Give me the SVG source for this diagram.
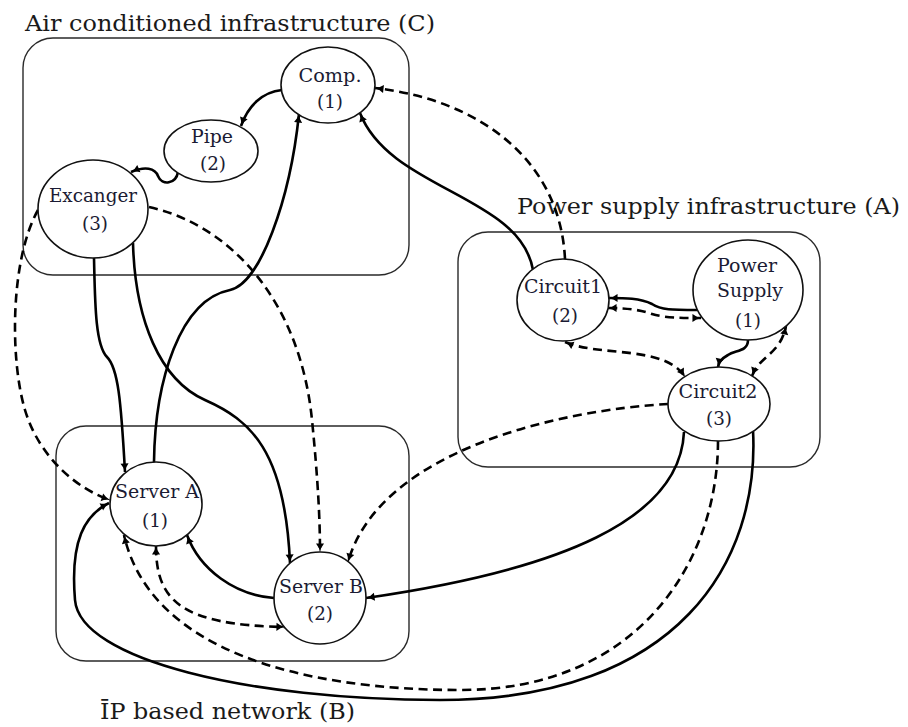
<svg xmlns="http://www.w3.org/2000/svg" width="908" height="727" viewBox="0 0 908 727">
<style>
.box{fill:none;stroke:#2a2a2a;stroke-width:1.4}
.node ellipse{fill:#fff;stroke:#111;stroke-width:1.6}
.nt{font-family:"DejaVu Serif",serif;font-size:18.5px;fill:#1b1b33;text-anchor:middle}
.gl{font-family:"DejaVu Serif",serif;font-size:22px;fill:#1a1a1a}
.c{fill:none;stroke:#000;stroke-width:2.6}
.d{stroke-dasharray:9 5.5}
.a{marker-end:url(#ah)}
.b{marker-start:url(#ah);marker-end:url(#ah)}
</style>
<defs>
<marker id="ah" viewBox="0 0 10 10" refX="9.5" refY="5" markerWidth="11" markerHeight="9" markerUnits="userSpaceOnUse" orient="auto-start-reverse">
<path d="M0,0.5 Q4,4 10,5 Q4,6 0,9.5 Z" fill="#000"/>
</marker>
</defs>
<rect width="908" height="727" fill="#fff"/>
<g id="groups">
<rect class="box" x="23" y="38" width="386" height="237" rx="30"/>
<rect class="box" x="458" y="232" width="362" height="235" rx="30"/>
<rect class="box" x="56" y="426" width="353" height="235" rx="30"/>
<text class="gl" x="25" y="31" textLength="410" lengthAdjust="spacingAndGlyphs">Air conditioned infrastructure (C)</text>
<text class="gl" x="517" y="214" textLength="383" lengthAdjust="spacingAndGlyphs">Power supply infrastructure (A)</text>
<text class="gl" x="100" y="719" textLength="255" lengthAdjust="spacingAndGlyphs">ĪP based network (B)</text>
</g>
<g id="connectors">
<path class="c a" d="M282,90 C262,92 248,106 241,126"/>
<path class="c a" d="M178,172 C176,184 162,186 158,176 C155,168 145,166 131,172"/>
<path class="c a" d="M533,270 C520,195 390,190 360,113"/>
<path class="c d a" d="M565,259 C560,160 480,100 375,88"/>
<path class="c a" d="M697,310 C672,310 661,310 652,304 C640,298 625,298 609,298"/>
<path class="c d b" d="M608,308 C628,308 640,310 652,314 C665,318 682,318 701,318"/>
<path class="c d b" d="M565,342 C600,357 665,345 685,377"/>
<path class="c a" d="M748,340 C748,352 735,350 728,355 C721,359 719,362 718,367"/>
<path class="c d b" d="M752,376 C760,355 780,355 786,326"/>
<path class="c d a" d="M668,404 C560,410 380,450 348,562"/>
<path class="c a" d="M684,432 C680,520 560,570 366,598"/>
<path class="c d a" d="M718,441 C718,560 640,690 460,690 C300,690 150,650 124,535"/>
<path class="c a" d="M753,430 C760,560 680,700 440,700 C250,700 80,660 75,600 C70,540 85,515 109,503"/>
<path class="c a" d="M274,598 C235,595 200,570 187,535"/>
<path class="c d b" d="M156,546 C156,600 180,625 285,627"/>
<path class="c a" d="M94,258 C95,300 95,345 107,357 C118,368 121,400 125,472"/>
<path class="c a" d="M133,243 C135,320 160,380 205,400 C250,420 285,450 290,563"/>
<path class="c a" d="M154,462 C155,380 180,300 230,290 C260,284 290,200 299,114"/>
<path class="c d a" d="M38,210 C10,260 10,360 25,410 C40,460 80,490 110,500"/>
<path class="c d a" d="M149,207 C230,225 300,300 312,420 C318,480 320,520 320,552"/>
</g>
<g id="comp" class="node"><ellipse cx="328" cy="85" rx="47" ry="38"/><text class="nt" x="330" y="82" textLength="63" lengthAdjust="spacingAndGlyphs">Comp.</text><text class="nt" x="330" y="108" textLength="26" lengthAdjust="spacingAndGlyphs">(1)</text></g>
<g id="pipe" class="node"><ellipse cx="211" cy="151" rx="47" ry="31"/><text class="nt" x="212" y="143" textLength="42" lengthAdjust="spacingAndGlyphs">Pipe</text><text class="nt" x="213" y="170" textLength="26" lengthAdjust="spacingAndGlyphs">(2)</text></g>
<g id="excanger" class="node"><ellipse cx="93" cy="209" rx="55" ry="49"/><text class="nt" x="93" y="202" textLength="88" lengthAdjust="spacingAndGlyphs">Excanger</text><text class="nt" x="95" y="230" textLength="26" lengthAdjust="spacingAndGlyphs">(3)</text></g>
<g id="circuit1" class="node"><ellipse cx="563" cy="300" rx="46" ry="41"/><text class="nt" x="563" y="293" textLength="78" lengthAdjust="spacingAndGlyphs">Circuit1</text><text class="nt" x="565" y="322" textLength="26" lengthAdjust="spacingAndGlyphs">(2)</text></g>
<g id="powersupply" class="node"><ellipse cx="748" cy="290" rx="55" ry="50"/><text class="nt" x="747" y="272" textLength="60" lengthAdjust="spacingAndGlyphs">Power</text><text class="nt" x="750" y="297" textLength="66" lengthAdjust="spacingAndGlyphs">Supply</text><text class="nt" x="748" y="327" textLength="26" lengthAdjust="spacingAndGlyphs">(1)</text></g>
<g id="circuit2" class="node"><ellipse cx="719" cy="404" rx="51" ry="37"/><text class="nt" x="718" y="398" textLength="79" lengthAdjust="spacingAndGlyphs">Circuit2</text><text class="nt" x="719" y="425" textLength="26" lengthAdjust="spacingAndGlyphs">(3)</text></g>
<g id="serverA" class="node"><ellipse cx="156" cy="504" rx="46" ry="42"/><text class="nt" x="157" y="498" textLength="84" lengthAdjust="spacingAndGlyphs">Server A</text><text class="nt" x="155" y="527" textLength="26" lengthAdjust="spacingAndGlyphs">(1)</text></g>
<g id="serverB" class="node"><ellipse cx="320" cy="598" rx="46" ry="46"/><text class="nt" x="321" y="593" textLength="84" lengthAdjust="spacingAndGlyphs">Server B</text><text class="nt" x="320" y="620" textLength="26" lengthAdjust="spacingAndGlyphs">(2)</text></g>
</svg>
